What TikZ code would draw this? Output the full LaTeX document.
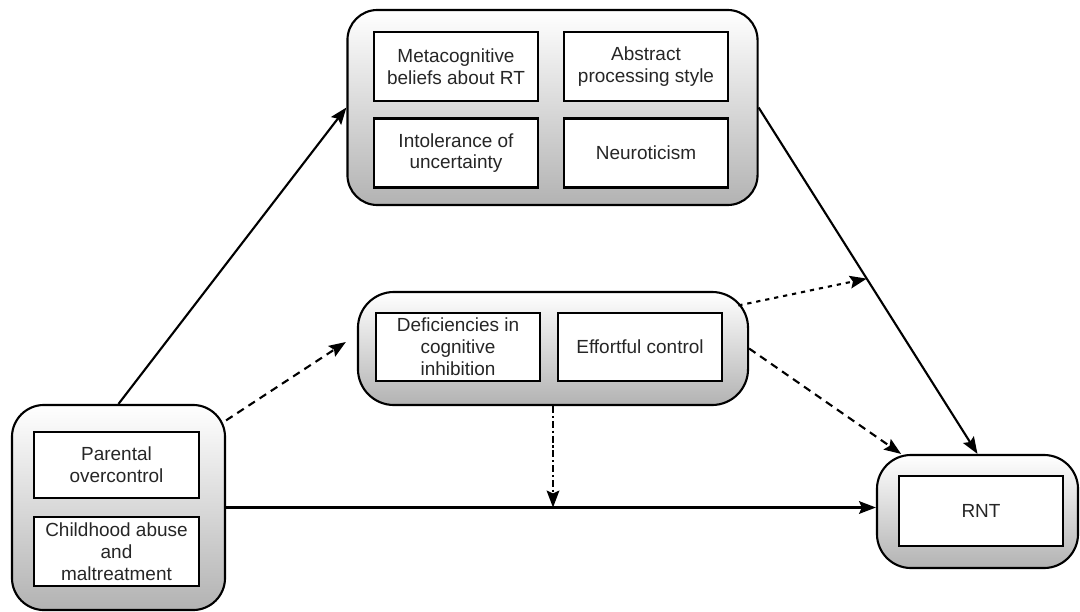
\documentclass[tikz,border=0pt]{standalone}
\usepackage{fontspec}
\setmainfont{Liberation Sans}
\usetikzlibrary{arrows.meta}

\begin{document}
\begin{tikzpicture}[x=0.025cm,y=-0.025cm,
    >={Stealth[length=12pt,width=9pt,inset=2pt]},
    font=\fontsize{13.5}{15.5}\selectfont,
    group/.style={draw,line width=1.5pt,rounded corners=#1,top color=white,bottom color=gray!60},
    group/.default=0.8cm,
    inbox/.style={draw,line width=1.6pt,fill=white,text=black!85,align=center,minimum width=4.1cm,minimum height=1.72cm,inner sep=2pt},
    link/.style={->,line width=1.5pt}]
    \useasboundingbox (0,0) rectangle (1080,612);
    % outer groups
    \node[group=0.75cm,minimum width=10.25cm,minimum height=4.875cm] (top) at (552.5,107.5) {};
    \node[group=0.9cm,minimum width=9.75cm,minimum height=2.825cm] (mid) at (553,348.5) {};
    \node[group=0.8cm,minimum width=5.325cm,minimum height=5.125cm] (pre) at (118.5,507.5) {};
    \node[group=0.85cm,minimum width=5.025cm,minimum height=2.825cm] (out) at (977.5,511.5) {};
    % factors
    \node[inbox] (meta) at (456,66.5) {Metacognitive\\beliefs about RT};
    \node[inbox] (abs) at (646,66.5) {Abstract\\processing style};
    \node[inbox] (iu) at (456,153) {Intolerance of\\uncertainty};
    \node[inbox] (neuro) at (646,153) {Neuroticism};
    \node[inbox,minimum height=1.7cm] (inhib) at (458,347) {Deficiencies in\\cognitive\\inhibition};
    \node[inbox,minimum height=1.7cm] (effort) at (640,347) {Effortful control};
    \node[inbox,minimum width=4.125cm,minimum height=1.65cm] (parent) at (116.5,465) {Parental\\overcontrol};
    \node[inbox,minimum width=4.125cm] (abuse) at (116.5,551.5) {Childhood abuse\\and\\maltreatment};
    \node[inbox,minimum height=1.75cm] (rnt) at (981,511) {RNT};
    % paths
    \draw[link] (pre.north) -- (top.west);
    \draw[link] (top.east) -- (out.north) coordinate[pos=0.494] (cross);
    \draw[link,dash pattern=on 3pt off 3.5pt,shorten <=-0.275cm] (mid.13) -- (cross);
    \draw[link,dash pattern=on 5.5pt off 4pt,shorten >=0.33cm] (pre.39) -- (mid.176);
    \draw[link,dash pattern=on 5.5pt off 4pt] (mid.east) -- (out.143);
    \draw[link] (pre.east) -- (pre.east -| out.west);
    \draw[link,dash pattern=on 5pt off 2pt on 1.5pt off 2pt] (mid.south) -- (mid.south |- pre.east);
\end{tikzpicture}
\end{document}
